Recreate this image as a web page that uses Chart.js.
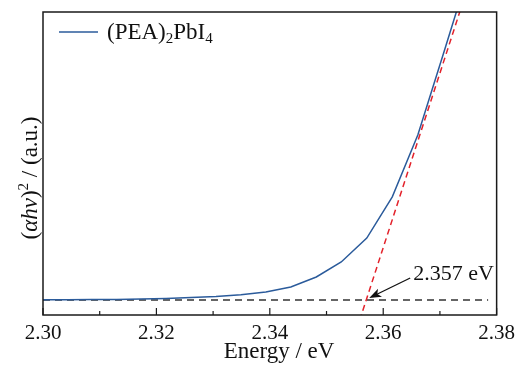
<!DOCTYPE html>
<html>
<head>
<meta charset="utf-8">
<script src="https://cdn.jsdelivr.net/npm/chart.js@4.4.1/dist/chart.umd.min.js"></script>
<style>
  html, body { margin: 0; padding: 0; background: #fff; }
</style>
</head>
<body>
<canvas id="myChart" width="521" height="365"></canvas>
<script>
const serif = '"Liberation Serif", "Times New Roman", serif';

// absorption edge, (ahv)^2 in arbitrary units
const energy = [2.2960, 2.3003, 2.3043, 2.3086, 2.3130, 2.3173, 2.3217, 2.3261, 2.3305, 2.3349,
                2.3393, 2.3437, 2.3482, 2.3526, 2.3571, 2.3616, 2.3661, 2.3706, 2.3751];
const absorb = [0.1, 0.1, 0.1, 0.15, 0.2, 0.35, 0.55, 0.9, 1.2, 1.8,
                2.8, 4.5, 8.0, 13.2, 21.5, 35.8, 57.3, 85.4, 114];

// linear fit of the edge and the baseline
const fitLine = [[2.3553, -10.3], [2.3750, 109.1]];
const baseLine = [[2.30, 0], [2.3785, 0]];
const bandGap = 2.357;

const tickMarks = [2.30, 2.31, 2.32, 2.33, 2.34, 2.35, 2.36, 2.37, 2.38];
const majorTicks = [2.30, 2.32, 2.34, 2.36, 2.38];

const blue = "#2b5b9b";

// draws a string made of pieces with their own font and vertical shift
function drawRuns(ctx, runs, x, y) {
  let w = 0;
  runs.forEach(r => { ctx.font = r.font; w += ctx.measureText(r.t).width; });
  return {
    width: w,
    draw(startX) {
      let cx = startX;
      runs.forEach(r => {
        ctx.font = r.font;
        ctx.fillText(r.t, cx, y + (r.dy || 0));
        cx += ctx.measureText(r.t).width;
      });
    }
  };
}

const overlay = {
  id: "overlay",
  afterDraw(chart) {
    const { ctx, chartArea: a, scales: { x, y } } = chart;
    ctx.save();

    // frame
    ctx.strokeStyle = "#1a1a1a";
    ctx.lineWidth = 1.5;
    ctx.strokeRect(a.left, a.top, a.right - a.left, a.bottom - a.top);

    // inward ticks on the energy axis
    ctx.lineWidth = 1.2;
    tickMarks.forEach(v => {
      const px = x.getPixelForValue(v);
      const len = majorTicks.includes(v) ? 7 : 4;
      ctx.beginPath();
      ctx.moveTo(px, a.bottom);
      ctx.lineTo(px, a.bottom - len);
      ctx.stroke();
    });

    // legend
    ctx.strokeStyle = blue;
    ctx.lineWidth = 1.5;
    ctx.beginPath();
    ctx.moveTo(59, 32);
    ctx.lineTo(98, 32);
    ctx.stroke();
    ctx.fillStyle = "#111";
    ctx.textBaseline = "alphabetic";
    ctx.textAlign = "left";
    const big = "23px " + serif, small = "15px " + serif;
    drawRuns(ctx, [
      { t: "(PEA)", font: big },
      { t: "2", font: small, dy: 4 },
      { t: "PbI", font: big },
      { t: "4", font: small, dy: 4 }
    ], 0, 39).draw(107);

    // band gap arrow and label
    const tipX = x.getPixelForValue(bandGap) + 3;
    const tipY = y.getPixelForValue(0) - 2;
    const tailX = tipX + 41, tailY = tipY - 20;
    const ang = Math.atan2(tipY - tailY, tipX - tailX);
    ctx.strokeStyle = "#111";
    ctx.lineWidth = 1.3;
    ctx.beginPath();
    ctx.moveTo(tailX, tailY);
    ctx.lineTo(tipX - 8 * Math.cos(ang), tipY - 8 * Math.sin(ang));
    ctx.stroke();
    ctx.beginPath();
    ctx.moveTo(tipX, tipY);
    ctx.lineTo(tipX - 12 * Math.cos(ang) + 4.5 * Math.sin(ang), tipY - 12 * Math.sin(ang) - 4.5 * Math.cos(ang));
    ctx.lineTo(tipX - 9 * Math.cos(ang), tipY - 9 * Math.sin(ang));
    ctx.lineTo(tipX - 12 * Math.cos(ang) - 4.5 * Math.sin(ang), tipY - 12 * Math.sin(ang) + 4.5 * Math.cos(ang));
    ctx.closePath();
    ctx.fill();
    ctx.font = "22px " + serif;
    ctx.fillText(bandGap.toFixed(3) + " eV", tailX + 3, tailY + 2);

    // x axis title
    ctx.font = "23px " + serif;
    ctx.textAlign = "center";
    ctx.fillText("Energy / eV", 279, 358);
    ctx.textAlign = "left";

    // y axis title, rotated
    ctx.translate(37, 178);
    ctx.rotate(-Math.PI / 2);
    const reg = "23px " + serif, ital = "italic 23px " + serif, sup = "15px " + serif;
    const title = drawRuns(ctx, [
      { t: "(", font: reg },
      { t: "\u03b1hv", font: ital },
      { t: ")", font: reg },
      { t: "2", font: sup, dy: -9 },
      { t: " / (a.u.)", font: reg }
    ], 0, 0);
    title.draw(-title.width / 2);

    ctx.restore();
  }
};

const ctx = document.getElementById("myChart");

new Chart(ctx, {
  type: "line",
  data: {
    datasets: [
      {
        label: "(PEA)2PbI4",
        data: energy.map((e, i) => ({ x: e, y: absorb[i] })),
        borderColor: blue,
        borderWidth: 1.5,
        pointRadius: 0,
        tension: 0
      },
      {
        label: "fit",
        data: fitLine.map(p => ({ x: p[0], y: p[1] })),
        borderColor: "#e3222b",
        borderWidth: 1.5,
        borderDash: [6, 4],
        pointRadius: 0
      },
      {
        label: "baseline",
        data: baseLine.map(p => ({ x: p[0], y: p[1] })),
        borderColor: "#333",
        borderWidth: 1.3,
        borderDash: [7, 5],
        pointRadius: 0
      }
    ]
  },
  options: {
    responsive: false,
    animation: false,
    devicePixelRatio: 1,
    layout: { padding: { left: 43, right: 22, top: 12, bottom: 0 } },
    plugins: {
      legend: { display: false },
      tooltip: { enabled: false }
    },
    scales: {
      x: {
        type: "linear",
        min: 2.30,
        max: 2.38,
        grid: { display: false, drawTicks: false },
        border: { display: false },
        ticks: {
          stepSize: 0.02,
          padding: 6,
          color: "#111",
          font: { family: serif, size: 21 },
          callback: v => v.toFixed(2)
        },
        title: { display: false },
        afterFit(scale) { scale.height = 50; }
      },
      y: {
        display: false,
        min: -5.2,
        max: 100
      }
    }
  },
  plugins: [overlay]
});
</script>
</body>
</html>
